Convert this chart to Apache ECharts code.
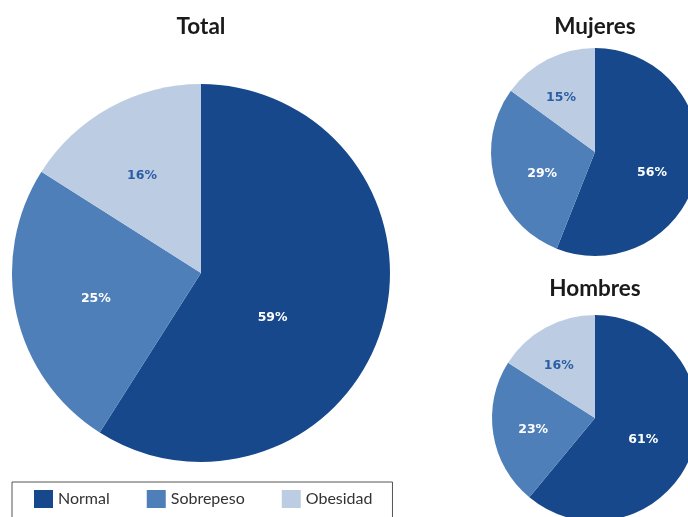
<!DOCTYPE html>
<html><head><meta charset="utf-8">
<script src="https://cdn.jsdelivr.net/npm/echarts@6/dist/echarts.min.js"></script>
<style>html,body{margin:0;padding:0;background:#fff}#c{width:688px;height:517px}</style>
</head><body><div id="c"></div>
<script>
const categories = ['Normal', 'Sobrepeso', 'Obesidad'];
const totalValues = [59, 25, 16];
const mujeresValues = [56, 29, 15];
const hombresValues = [61, 23, 16];
const panelTitles = ['Total', 'Mujeres', 'Hombres'];

const colors = ['#17488c', '#4f7fb9', '#bccde3'];
const labelColors = ['#ffffff', '#ffffff', '#2b5da3'];
// small label nudges (style only) to mimic the original label placement
const labelNudges = {
  total: [[-22, 18], [-10, 4], [-12, -12]],
  mujeres: [[3, 10], [0, 6], [-9, -5]],
  hombres: [[-3, 3], [-8, 3], [-10, -4]]
};

function mkData(vals, nudges) {
  return vals.map((v, i) => ({
    name: categories[i], value: v,
    label: { color: labelColors[i], offset: nudges[i] }
  }));
}
function mkSeries(vals, center, radius, nudges) {
  return {
    type: 'pie', center: center, radius: radius, startAngle: 90,
    clockwise: true, silent: true, animation: false,
    label: { show: true, position: 'inside', formatter: '{c}%',
      fontFamily: 'DejaVu Sans', fontWeight: 'bold', fontSize: 12.5 },
    labelLine: { show: false },
    itemStyle: { borderWidth: 0 },
    data: mkData(vals, nudges)
  };
}
const titleStyle = { fontFamily: 'Lato', fontWeight: 'bold', fontSize: 22.5, color: '#1a1a1a' };
const chart = echarts.init(document.getElementById('c'), null, { renderer: 'canvas' });
chart.setOption({
  backgroundColor: '#ffffff',
  color: colors,
  title: [
    { text: panelTitles[0], left: 196, top: 10, textAlign: 'center', textStyle: titleStyle },
    { text: panelTitles[1], left: 590, top: 10, textAlign: 'center', textStyle: titleStyle },
    { text: panelTitles[2], left: 590, top: 272, textAlign: 'center', textStyle: titleStyle }
  ],
  legend: {
    data: categories, left: 12, top: 482, orient: 'horizontal',
    icon: 'rect', itemWidth: 19, itemHeight: 18, itemGap: 37,
    padding: [8, 20, 30, 22],
    borderColor: '#555', borderWidth: 1,
    textStyle: { fontFamily: 'Lato', fontSize: 16, color: '#333' }
  },
  series: [
    mkSeries(totalValues, [201, 273], 189, labelNudges.total),
    mkSeries(mujeresValues, [595, 152], 104, labelNudges.mujeres),
    mkSeries(hombresValues, [595, 418], 103, labelNudges.hombres)
  ]
});
</script></body></html>
